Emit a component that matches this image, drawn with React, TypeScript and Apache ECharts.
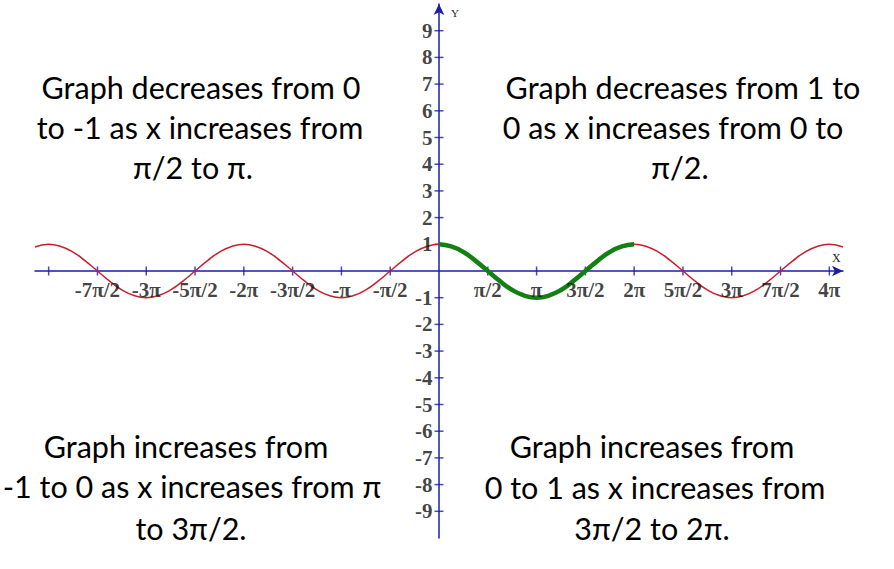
import React, { useEffect, useRef } from "react";
import * as echarts from "echarts";

// x is measured in units of π/2
const redCurve: [number, number][] = [
  [-8.28, 0.9], [-8, 1], [-7.75, 0.92], [-7.5, 0.71], [-7.25, 0.38], [-7, 0], [-6.75, -0.38], [-6.5, -0.71], [-6.25, -0.92],
  [-6, -1], [-5.75, -0.92], [-5.5, -0.71], [-5.25, -0.38], [-5, 0], [-4.75, 0.38], [-4.5, 0.71], [-4.25, 0.92],
  [-4, 1], [-3.75, 0.92], [-3.5, 0.71], [-3.25, 0.38], [-3, 0], [-2.75, -0.38], [-2.5, -0.71], [-2.25, -0.92],
  [-2, -1], [-1.75, -0.92], [-1.5, -0.71], [-1.25, -0.38], [-1, 0], [-0.75, 0.38], [-0.5, 0.71], [-0.25, 0.92],
  [0, 1], [0.25, 0.92], [0.5, 0.71], [0.75, 0.38], [1, 0], [1.25, -0.38], [1.5, -0.71], [1.75, -0.92],
  [2, -1], [2.25, -0.92], [2.5, -0.71], [2.75, -0.38], [3, 0], [3.25, 0.38], [3.5, 0.71], [3.75, 0.92],
  [4, 1], [4.25, 0.92], [4.5, 0.71], [4.75, 0.38], [5, 0], [5.25, -0.38], [5.5, -0.71], [5.75, -0.92],
  [6, -1], [6.25, -0.92], [6.5, -0.71], [6.75, -0.38], [7, 0], [7.25, 0.38], [7.5, 0.71], [7.75, 0.92],
  [8, 1], [8.28, 0.9],
];

const greenCurve: [number, number][] = [
  [0, 1], [0.25, 0.92], [0.5, 0.71], [0.75, 0.38], [1, 0], [1.25, -0.38], [1.5, -0.71], [1.75, -0.92],
  [2, -1], [2.25, -0.92], [2.5, -0.71], [2.75, -0.38], [3, 0], [3.25, 0.38], [3.5, 0.71], [3.75, 0.92], [4, 1],
];

const xTickValues = [-8, -7, -6, -5, -4, -3, -2, -1, 1, 2, 3, 4, 5, 6, 7, 8];
const xLabelValues = [-7, -6, -5, -4, -3, -2, -1, 1, 2, 3, 4, 5, 6, 7, 8];
const xTickLabels = ["-7π/2", "-3π", "-5π/2", "-2π", "-3π/2", "-π", "-π/2", "π/2", "π", "3π/2", "2π", "5π/2", "3π", "7π/2", "4π"];
const yTickValues = [-9, -8, -7, -6, -5, -4, -3, -2, -1, 1, 2, 3, 4, 5, 6, 7, 8, 9];
const yTickLabels = ["-9", "-8", "-7", "-6", "-5", "-4", "-3", "-2", "-1", "1", "2", "3", "4", "5", "6", "7", "8", "9"];

const noteLines: { text: string; cx: number; cy: number }[] = [
  { text: "Graph decreases from 0", cx: 201, cy: 87 },
  { text: "to -1 as x increases from", cx: 200, cy: 127 },
  { text: "π/2 to π.", cx: 193, cy: 167 },
  { text: "Graph decreases from 1 to", cx: 683, cy: 87 },
  { text: "0 as x increases from 0 to", cx: 673, cy: 127 },
  { text: "π/2.", cx: 680, cy: 167 },
  { text: "Graph increases from", cx: 186, cy: 446 },
  { text: "-1 to 0 as x increases from π", cx: 192, cy: 486 },
  { text: "to 3π/2.", cx: 191, cy: 528 },
  { text: "Graph increases from", cx: 652, cy: 446 },
  { text: "0 to 1 as x increases from", cx: 655, cy: 487 },
  { text: "3π/2 to 2π.", cx: 652, cy: 528 },
];

const AXIS = "#1c1ca8";
const tickFont = { fontFamily: "Liberation Serif", fontWeight: "bold" as const, fontSize: 21, color: "#111" };

export default function App() {
  const ref = useRef<HTMLDivElement>(null);
  useEffect(() => {
    if (!ref.current) return;
    const chart = echarts.init(ref.current, null, { renderer: "svg" });
    chart.setOption({
      animation: false,
      backgroundColor: "#ffffff",
      grid: { left: 35, right: 51, top: 4, bottom: 31, containLabel: false },
      xAxis: {
        type: "value",
        min: -8.28,
        max: 8.28,
        splitLine: { show: false },
        axisTick: { show: false },
        axisLabel: { show: false },
        axisLine: { onZero: true, lineStyle: { color: AXIS, width: 1.5 }, symbol: ["none", "arrow"], symbolSize: [8, 11] },
      },
      yAxis: {
        type: "value",
        min: -10,
        max: 10,
        splitLine: { show: false },
        axisTick: { show: false },
        axisLabel: { show: false },
        axisLine: { onZero: true, lineStyle: { color: AXIS, width: 1.5 }, symbol: ["none", "arrow"], symbolSize: [8, 11] },
      },
      series: [
        {
          type: "scatter",
          data: xTickValues.map((v) => [v, 0]),
          symbol: "rect",
          symbolSize: [1.5, 9],
          itemStyle: { color: AXIS },
          silent: true,
          z: 1,
        },
        {
          type: "scatter",
          data: yTickValues.map((v) => [0, v]),
          symbol: "rect",
          symbolSize: [9, 1.5],
          itemStyle: { color: AXIS },
          silent: true,
          z: 1,
        },
        {
          type: "scatter",
          data: xLabelValues.map((v, i) => ({ value: [v, 0], name: xTickLabels[i] })),
          symbol: "circle",
          symbolSize: 1,
          itemStyle: { color: "transparent" },
          silent: true,
          label: { show: true, position: "bottom", distance: 8, formatter: "{b}", ...tickFont },
          z: 5,
        },
        {
          type: "scatter",
          data: yTickValues.map((v, i) => ({ value: [0, v], name: yTickLabels[i] })),
          symbol: "circle",
          symbolSize: 1,
          itemStyle: { color: "transparent" },
          silent: true,
          label: { show: true, position: "left", distance: 6, formatter: "{b}", ...tickFont },
          z: 5,
        },
        {
          type: "line",
          data: redCurve,
          smooth: true,
          showSymbol: false,
          lineStyle: { color: "#c8202a", width: 1.5 },
          z: 3,
        },
        {
          type: "line",
          data: greenCurve,
          smooth: true,
          showSymbol: false,
          lineStyle: { color: "#128012", width: 4.5 },
          z: 4,
        },
      ],
      graphic: [
        { type: "text", x: 451, y: 7, style: { text: "Y", font: "11px 'Liberation Serif'", fill: "#222" } },
        { type: "text", x: 832, y: 252, style: { text: "X", font: "12px 'Liberation Serif'", fill: "#222" } },
        ...noteLines.map((l) => ({
          type: "text",
          x: l.cx,
          y: l.cy,
          style: {
            text: l.text,
            fontFamily: "Lato",
            fontSize: 30.5,
            fill: "#000",
            textAlign: "center",
            textVerticalAlign: "middle",
          },
        })),
      ],
    });
    return () => chart.dispose();
  }, []);
  return <div ref={ref} style={{ position: "fixed", left: 0, top: 0, width: 894, height: 569 }} />;
}
